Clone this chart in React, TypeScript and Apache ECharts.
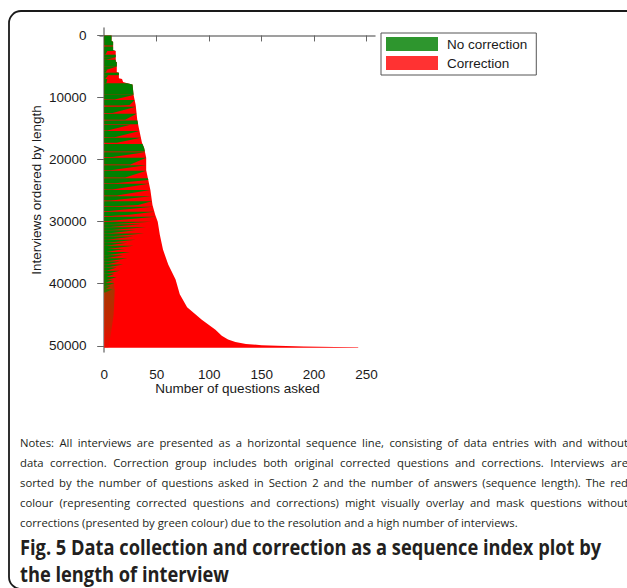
import React, { useEffect, useRef } from "react";
import * as echarts from "echarts";

const xTicks = [0, 50, 100, 150, 200, 250];
const yTicks = [0, 10000, 20000, 30000, 40000, 50000];

// envelope of sequence lengths (row index -> number of questions asked)
const envRow = [0, 900, 1000, 2400, 2500, 4200, 4300, 5900, 6000, 6900, 7000, 7500, 7700, 7900, 9600, 11200, 13600, 14900, 17300, 18100, 19700, 21700, 23300, 24900, 27300, 28900, 30000, 32100, 34500, 36900, 39300, 41700, 43800, 45800, 47400, 48400, 49000, 49400, 49700, 49900, 50000, 50100, 50200, 50250, 50300];
const envLen = [7, 7, 8.5, 8.5, 11, 11, 12, 12, 14, 14, 17, 18, 22, 27, 28, 30, 31.5, 33, 36, 38, 40, 40, 42, 44, 46, 48.6, 51, 53, 56, 61, 68, 72, 79, 93, 106, 112, 118, 125, 135, 150, 165, 190, 220, 242, 242];

// green (no correction) bands: [rowStart, rowEnd, greenLenTop, greenLenBottom]
const greenBands: number[][] = [
  [0, 1600, 99, 99], [1800, 2500, 99, 99], [2500, 3100, 3, 1], [3100, 3500, 99, 99],
  [3500, 3900, 99, 2], [3900, 5000, 99, 99], [5000, 5600, 99, 1], [5600, 6000, 3, 1],
  [6000, 6400, 99, 99], [6400, 7000, 4, 1], [7000, 7700, 3, 2],
  [7700, 9500, 99, 99], [9500, 10300, 99, 10], [10400, 11300, 99, 15], [11500, 12500, 99, 8],
  [12600, 13600, 99, 20], [13700, 14300, 99, 40], [14400, 15300, 25, 3], [15400, 16400, 99, 10],
  [16500, 17300, 99, 12], [17500, 18700, 99, 60], [18800, 19600, 99, 8], [19700, 20800, 99, 25],
  [20900, 21700, 99, 6], [21800, 22900, 99, 20], [23000, 23800, 99, 10], [23900, 24800, 99, 8],
  [24900, 25800, 99, 12], [25900, 26600, 80, 6], [26700, 27500, 99, 10], [27600, 28300, 60, 5],
  [28400, 29100, 70, 6], [29200, 29900, 50, 4],
  [30000, 30400, 45, 5], [30400, 30900, 35, 3], [30900, 31400, 40, 4], [31400, 31900, 30, 3],
  [31900, 32400, 38, 4], [32400, 32900, 28, 3], [32900, 33400, 30, 3], [33400, 33900, 22, 2],
  [33900, 34400, 28, 3], [34400, 34900, 20, 2], [34900, 35400, 25, 2], [35400, 35900, 18, 2],
  [35900, 36400, 22, 2], [36400, 36900, 15, 2], [36900, 37400, 18, 2], [37400, 37900, 12, 2],
  [37900, 38400, 15, 2], [38400, 38900, 10, 2], [38900, 39400, 12, 2], [39400, 39900, 8, 1],
  [39900, 40400, 10, 1], [40400, 40900, 6, 1], [40900, 41400, 8, 1]
];

// mixed (olive) zone where thin green and red lines overlay
const mixRow = [38000, 41000, 45000, 48500, 50300];
const mixLen = [8, 10, 9, 6, 4];

const noteLines = [
  "Notes: All interviews are presented as a horizontal sequence line, consisting of data entries with and without",
  "data correction. Correction group includes both original corrected questions and corrections. Interviews are",
  "sorted by the number of questions asked in Section 2 and the number of answers (sequence length). The red",
  "colour (representing corrected questions and corrections) might visually overlay and mask questions without",
  "corrections (presented by green colour) due to the resolution and a high number of interviews."
];
const captionLines = [
  "Fig. 5 Data collection and correction as a sequence index plot by",
  "the length of interview"
];

const GREEN = "#008000";
const RED = "#ff0000";

function envAt(r: number): number {
  if (r <= envRow[0]) return envLen[0];
  for (let i = 1; i < envRow.length; i++) {
    if (r <= envRow[i]) {
      const t = (r - envRow[i - 1]) / (envRow[i] - envRow[i - 1]);
      return envLen[i - 1] + t * (envLen[i] - envLen[i - 1]);
    }
  }
  return envLen[envLen.length - 1];
}

export default function App() {
  const ref = useRef<HTMLDivElement>(null);
  useEffect(() => {
    if (!ref.current) return;
    const chart = echarts.init(ref.current, null, { renderer: "svg" });
    const axisFont = "'Liberation Sans', Arial, sans-serif";
    const noteFont = "11.3px 'Open Sans', sans-serif";
    const canvas = document.createElement("canvas");
    const ctx = canvas.getContext("2d") as CanvasRenderingContext2D;
    ctx.font = noteFont;
    const justifyRight = 628;
    const graphics: any[] = [
      {
        type: "rect",
        shape: { x: 9, y: 11, width: 700, height: 578, r: 12 },
        style: { fill: "none", stroke: "#1a1a1a", lineWidth: 1.8 },
        silent: true,
      },
    ];
    noteLines.forEach((t, i) => {
      const y = 442 + i * 20;
      const last = i === noteLines.length - 1;
      if (last) {
        graphics.push({
          type: "text", x: 20, y,
          style: { text: t, font: noteFont, fill: "#231f20", verticalAlign: "middle" },
          silent: true,
        });
        return;
      }
      const words = t.split(" ");
      const widths = words.map((w) => ctx.measureText(w).width);
      const sum = widths.reduce((a, b) => a + b, 0);
      const gap = (justifyRight - 20 - sum) / (words.length - 1);
      let x = 20;
      words.forEach((w, k) => {
        graphics.push({
          type: "text", x, y,
          style: { text: w, font: noteFont, fill: "#231f20", verticalAlign: "middle" },
          silent: true,
        });
        x += widths[k] + gap;
      });
    });
    captionLines.forEach((t, i) => {
      graphics.push({
        type: "text",
        x: 20,
        y: 547 + i * 27,
        scaleX: 0.87,
        style: { text: t, font: "bold 21px 'Open Sans', sans-serif", fill: "#231f20", verticalAlign: "middle", lineHeight: 24 },
        silent: true,
      });
    });

    const option: any = {
      animation: false,
      backgroundColor: "#ffffff",
      grid: { left: 100, top: 28, width: 275, height: 324, containLabel: false },
      legend: {
        orient: "vertical",
        left: 381,
        top: 33,
        itemWidth: 52,
        itemHeight: 14,
        itemGap: 5,
        padding: [4, 9, 5, 5],
        borderColor: "#555",
        borderWidth: 1,
        icon: "rect",
        selectedMode: false,
        textStyle: { fontSize: 13.5, fontFamily: axisFont, color: "#1a1a1a", padding: [0, 0, 0, 4] },
        data: [
          { name: "No correction", itemStyle: { color: "#2e962e" } },
          { name: "Correction", itemStyle: { color: "#ff3232" } },
        ],
      },
      xAxis: {
        type: "value",
        min: -4,
        max: 258,
        offset: 6.5,
        splitLine: { show: false },
        axisLine: { show: true, lineStyle: { color: "#808080", width: 1.5 } },
        axisTick: { show: true, length: 6, lineStyle: { color: "#666" }, customValues: xTicks },
        axisLabel: { customValues: xTicks, fontSize: 13.5, fontFamily: axisFont, color: "#1a1a1a", margin: 9 },
        name: "Number of questions asked",
        nameLocation: "middle",
        nameGap: 23,
        nameMoveOverlap: false,
        nameTextStyle: { fontSize: 13.5, fontFamily: axisFont, color: "#1a1a1a" },
      },
      yAxis: {
        type: "value",
        inverse: true,
        min: -1200,
        max: 51000,
        offset: 3.5,
        splitLine: { show: false },
        axisLine: { show: true, lineStyle: { color: "#808080", width: 1.5 } },
        axisTick: { show: true, length: 7, lineStyle: { color: "#666" }, customValues: yTicks },
        axisLabel: {
          customValues: yTicks,
          fontSize: 13.5,
          fontFamily: axisFont,
          color: "#1a1a1a",
          margin: 10,
          formatter: (v: number) => String(v),
        },
        name: "Interviews ordered by length",
        nameLocation: "middle",
        nameGap: 53,
        nameMoveOverlap: false,
        nameTextStyle: { fontSize: 13.5, fontFamily: axisFont, color: "#1a1a1a" },
      },
      series: [
        {
          type: "custom",
          name: "Correction",
          itemStyle: { color: RED },
          data: [[0, 0]],
          encode: { x: 0, y: 1 },
          renderItem: (_p: any, api: any) => {
            const pts: number[][] = [api.coord([0, envRow[0]])];
            for (let i = 0; i < envRow.length; i++) pts.push(api.coord([envLen[i], envRow[i]]));
            pts.push(api.coord([0, envRow[envRow.length - 1]]));
            return { type: "polygon", shape: { points: pts }, style: { fill: RED } };
          },
        },
        {
          type: "custom",
          name: "No correction",
          itemStyle: { color: GREEN },
          data: greenBands,
          encode: { x: [2, 3], y: [0, 1] },
          renderItem: (_p: any, api: any) => {
            const s = api.value(0);
            const e = api.value(1);
            const gt = api.value(2);
            const gb = api.value(3);
            const g = (r: number) => gt + ((gb - gt) * (r - s)) / (e - s);
            const rows = [s];
            envRow.forEach((r) => { if (r > s && r < e) rows.push(r); });
            rows.push(e);
            const pts: number[][] = [api.coord([0, s])];
            rows.forEach((r) => pts.push(api.coord([Math.min(g(r), envAt(r)), r])));
            pts.push(api.coord([0, e]));
            return { type: "polygon", shape: { points: pts }, style: { fill: GREEN } };
          },
        },
        {
          type: "custom",
          name: "mixed",
          data: [[0, 0]],
          encode: { x: 0, y: 1 },
          renderItem: (_p: any, api: any) => {
            const pts: number[][] = [api.coord([0, mixRow[0]])];
            for (let i = 0; i < mixRow.length; i++) pts.push(api.coord([mixLen[i], mixRow[i]]));
            pts.push(api.coord([0, mixRow[mixRow.length - 1]]));
            return {
              type: "polygon",
              shape: { points: pts },
              style: {
                fill: new echarts.graphic.LinearGradient(0, 0, 0, 1, [
                  { offset: 0, color: "rgba(60,110,0,0.0)" },
                  { offset: 0.25, color: "rgba(80,110,0,0.5)" },
                  { offset: 0.7, color: "rgba(130,80,0,0.45)" },
                  { offset: 1, color: "rgba(200,30,0,0.3)" },
                ]),
              },
            };
          },
        },
      ],
      graphic: graphics,
    };
    chart.setOption(option);
    return () => chart.dispose();
  }, []);
  return (
    <div
      ref={ref}
      style={{ position: "fixed", left: 0, top: 0, width: 627, height: 588, background: "#fff" }}
    />
  );
}
